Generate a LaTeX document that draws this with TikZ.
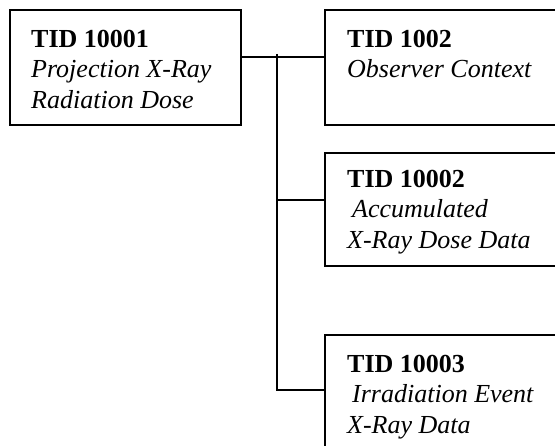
\documentclass[tikz,border=0pt]{standalone}
\usepackage{fontspec}
\setmainfont{Liberation Serif}
\usetikzlibrary{positioning}

\begin{document}
\begin{tikzpicture}[x=1pt,y=-1pt,
    tidbox/.style={draw,line width=1.7pt,rectangle,anchor=north west,inner sep=0pt},
    tidtext/.style={anchor=north west,inner sep=0pt,align=left,font=\fontsize{26}{30.5}\selectfont},
    link/.style={line width=1.7pt}]
    \useasboundingbox (0,0) rectangle (555,446);
    \node[tidbox,minimum width=231pt,minimum height=115pt] (tid10001) at (9,9) {};
    \node[tidbox,minimum width=260pt,minimum height=115pt] (tid1002) at (324,9) {};
    \node[tidbox,minimum width=260pt,minimum height=113pt] (tid10002) at (324,152) {};
    \node[tidbox,minimum width=260pt,minimum height=130pt] (tid10003) at (324,334) {};
    \node[tidtext] (txt10001) at ([xshift=22pt,yshift=-21pt]tid10001.north west)
        {\textbf{TID 10001}\\ \textit{Projection X-Ray}\\ \textit{Radiation Dose}};
    \node[tidtext] (txt1002) at ([xshift=23pt,yshift=-21pt]tid1002.north west)
        {\textbf{TID 1002}\\ \textit{Observer Context}};
    \node[tidtext] (txt10002) at ([xshift=23pt,yshift=-18pt]tid10002.north west)
        {\textbf{TID 10002}\\ \hspace{5pt}\textit{Accumulated}\\ \textit{X-Ray Dose Data}};
    \node[tidtext] (txt10003) at ([xshift=23pt,yshift=-21pt]tid10003.north west)
        {\textbf{TID 10003}\\ \hspace{5pt}\textit{Irradiation Event}\\ \textit{X-Ray Data}};
    \coordinate (out) at ([yshift=-48pt]tid10001.north east);
    \coordinate (bustop) at (277,54);
    \coordinate (in10002) at ([yshift=-48pt]tid10002.north west);
    \coordinate (in10003) at ([yshift=-56pt]tid10003.north west);
    \draw[link] (out) -- (out -| tid1002.west);
    \draw[link] (bustop) -- (bustop |- in10003) -- (in10003);
    \draw[link] (bustop |- in10002) -- (in10002);
\end{tikzpicture}
\end{document}
